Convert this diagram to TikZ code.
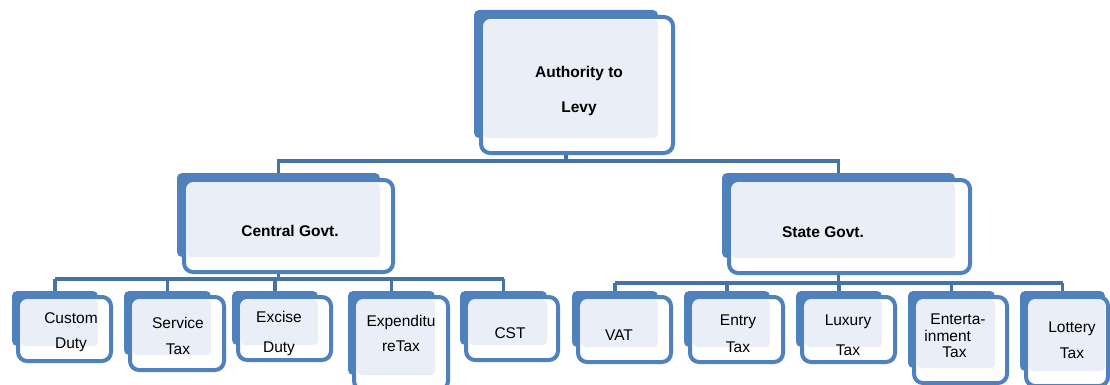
\documentclass[tikz,border=0pt]{standalone}
\usepackage{fontspec}
\setmainfont{Liberation Sans}
\definecolor{boxblue}{HTML}{4F81BD}
\definecolor{boxlight}{HTML}{EAEFF7}
\definecolor{linkblue}{HTML}{4672A8}
\begin{document}
\begin{tikzpicture}[x=1pt, y=-1pt,
  backbox/.style={fill=boxblue, rounded corners=5pt, inner sep=0pt, outer sep=0pt},
  frontbox/.style={draw=boxblue, fill=white, line width=4pt, rounded corners=9pt, inner sep=0pt},
  lightbox/.style={fill=boxlight, rounded corners=4pt, inner sep=0pt},
  busline/.style={draw=linkblue, line width=3.6pt},
  leaftext/.style={inner sep=0pt, align=center},
  headtext/.style={inner sep=0pt, align=center, font=\bfseries\fontsize{15.5}{35}\selectfont}]

\clip (0,0) rectangle (1110,385);
\fill[white] (0,0) rectangle (1110,385);

\foreach \n/\xa/\ya/\xb/\yb/\fr in {auth/474/10/658/138/15, cg/177/173/380/257/13, sg/722/173/955/258/15}
{
  \node[backbox, minimum width={\xb-\xa}, minimum height={\yb-\ya}] (\n) at ({(\xa+\xb)/2}, {(\ya+\yb)/2}) {};
  \node[frontbox, minimum width={\xb+\fr-\xa-7}, minimum height={\yb+15-\ya-7}] (\n-f) at ({(\xa+7+\xb+\fr)/2}, {(\ya+7+\yb+15)/2}) {};
  \node[lightbox, minimum width={\xb-\xa-10}, minimum height={\yb-\ya-10}] (\n-l) at ({(\xa+10+\xb)/2}, {(\ya+10+\yb)/2}) {};
}

\foreach \n/\xa/\xb/\yb/\fr in {cd/12/98/346/13, st/124/211/355/13, ed/232/318/345/13, et/348/435/375/13, cst/460/547/345/11,
  vat/572/658/347/13, ent/684/770/347/13, lux/796/882/347/13, tt/908/995/368/12, lot/1020/1105/371/3}
{
  \node[backbox, minimum width={\xb-\xa}, minimum height={\yb-291}] (\n) at ({(\xa+\xb)/2}, {(\yb+291)/2}) {};
  \node[frontbox, minimum width={\xb+\fr-\xa-6}, minimum height={\yb+15-297}] (\n-f) at ({(\xa+6+\xb+\fr)/2}, {(\yb+15+297)/2}) {};
  \node[lightbox, minimum width={\xb-\xa-9}, minimum height={\yb-300}] (\n-l) at ({(\xa+9+\xb)/2}, {(\yb+300)/2}) {};
}

\node[headtext] (auth-t) at (579,91) {Authority to\\Levy};
\node[headtext] (cg-t) at (290,231) {Central Govt.};
\node[headtext] (sg-t) at (823,232) {State Govt.};

\foreach \n/\x/\y/\ls/\txt in {cd/71/332/25/{Custom\\Duty}, st/178/336/26/{Service\\Tax}, ed/279/333/30/{Excise\\Duty},
  et/401/333/25/{Expenditu\\reTax}, cst/510/333/25/{CST}, vat/619/335/25/{VAT}, ent/738/334/27/{Entry\\Tax},
  lux/848/335/30/{Luxury\\Tax}, lot/1072/340/26/{Lottery\\Tax}}
  \node[leaftext, font=\fontsize{15.5}{\ls}\selectfont] (\n-t) at (\x,\y) {\txt};
\node[leaftext, align=left, font=\fontsize{15.5}{16.5}\selectfont] (tt-t) at (955,336) {\hspace*{6pt}Enterta-\\inment\\\hspace*{18pt}Tax};

\coordinate (topbus) at (0,161);
\coordinate (lbus) at (0,279);
\coordinate (rbus) at (0,283);

\draw[busline] (auth |- auth-f.south) -- (auth |- topbus);
\draw[busline] (cg.north) -- (cg |- topbus) -- (sg |- topbus) -- (sg.north);

\draw[busline] (cg |- cg-f.south) -- (cg |- lbus);
\draw[busline] (cd |- lbus) -- (cst |- lbus);
\foreach \n in {cd,st,ed,et,cst}
  \draw[busline] (\n |- lbus) -- (\n.north);

\draw[busline] (sg |- sg-f.south) -- (sg |- rbus);
\draw[busline] (vat |- rbus) -- (lot |- rbus);
\foreach \n in {vat,ent,lux,tt,lot}
  \draw[busline] (\n |- rbus) -- (\n.north);

\end{tikzpicture}
\end{document}
